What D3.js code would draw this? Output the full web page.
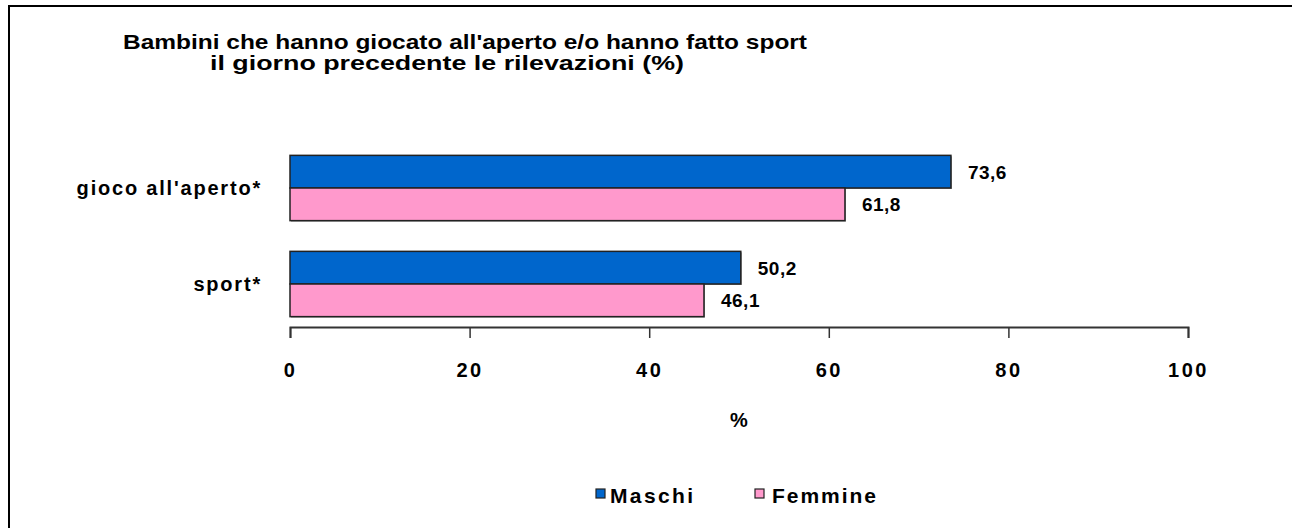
<!DOCTYPE html>
<html>
<head>
<meta charset="utf-8">
<script src="https://cdn.jsdelivr.net/npm/d3@7"></script>
<style>
  body { margin: 0; background: #fff; }
  text { font-family: "Liberation Sans", Arial, sans-serif; font-weight: bold; fill: #000; }
</style>
</head>
<body>
<div id="chart"></div>
<script>
var categories = ["gioco all'aperto*", "sport*"];
var series = ["Maschi", "Femmine"];
var maschi = [73.6, 50.2];
var femmine = [61.8, 46.1];
var xTicks = [0, 20, 40, 60, 80, 100];
var colors = ["#0066cc", "#ff99cc"];
var titleLines = ["Bambini che hanno giocato all'aperto e/o hanno fatto sport", "il giorno precedente le rilevazioni (%)"];

var W = 1292, H = 528;
var fmt = (v) => v.toFixed(1).replace(".", ",");

var svg = d3.select("#chart").append("svg")
    .attr("width", W)
    .attr("height", H);

// outer frame (only left and top visible)
svg.append("path")
    .attr("d", "M9,528 V6 H1292")
    .attr("fill", "none")
    .attr("stroke", "#000")
    .attr("stroke-width", 2);

var x = d3.scaleLinear().domain([0, 100]).range([290, 1188]);
var y = d3.scaleBand().domain(categories).range([140, 332])
    .paddingInner(0.32).paddingOuter(0.16);
var ySub = d3.scaleBand().domain(series).range([0, y.bandwidth()]);

// title
svg.append("g").selectAll("text")
    .data(titleLines)
    .enter().append("text")
    .attr("x", (d, i) => i == 0 ? 465 : 447)
    .attr("y", (d, i) => 49 + i * 21)
    .attr("text-anchor", "middle")
    .attr("font-size", "21px")
    .attr("textLength", (d, i) => i == 0 ? 684 : 474)
    .attr("lengthAdjust", "spacingAndGlyphs")
    .text((d) => d);

var rows = categories.map((c, i) => ({cat: c, vals: [maschi[i], femmine[i]]}));

var grp = svg.selectAll(".grp")
    .data(rows)
    .enter().append("g")
    .attr("class", "grp")
    .attr("transform", (d) => "translate(0," + y(d.cat) + ")");

// shadows
grp.selectAll(".shadow")
    .data((d) => d.vals.map((v, j) => ({v: v, s: series[j], j: j})))
    .enter().append("rect")
    .attr("x", x(0) + 1)
    .attr("y", (d) => ySub(d.s) + 1)
    .attr("width", (d) => x(d.v) - x(0))
    .attr("height", ySub.bandwidth())
    .attr("fill", "#999");

grp.selectAll(".bar")
    .data((d) => d.vals.map((v, j) => ({v: v, s: series[j], j: j})))
    .enter().append("rect")
    .attr("x", x(0))
    .attr("y", (d) => ySub(d.s))
    .attr("width", (d) => x(d.v) - x(0))
    .attr("height", ySub.bandwidth())
    .attr("fill", (d) => colors[d.j])
    .attr("stroke", "#222")
    .attr("stroke-width", 1.5);

grp.selectAll(".val")
    .data((d) => d.vals.map((v, j) => ({v: v, s: series[j], j: j})))
    .enter().append("text")
    .attr("x", (d) => x(d.v) + 17)
    .attr("y", (d) => ySub(d.s) + ySub.bandwidth() / 2 + 7)
    .attr("font-size", "19px")
    .attr("letter-spacing", "0.5px")
    .text((d) => fmt(d.v));

// category labels
svg.append("g").selectAll("text")
    .data(categories)
    .enter().append("text")
    .attr("x", 262)
    .attr("y", (d) => y(d) + y.bandwidth() / 2 + 7)
    .attr("text-anchor", "end")
    .attr("font-size", "20px")
    .attr("letter-spacing", "1.8px")
    .text((d) => d);

// x axis
var axis = svg.append("g")
    .attr("transform", "translate(0,327)")
    .call(d3.axisBottom(x).tickValues(xTicks).tickSize(11).tickSizeOuter(11).tickPadding(25));
axis.select(".domain").attr("stroke", "#333").attr("stroke-width", 2);
axis.selectAll(".tick line").attr("stroke", "#333").attr("stroke-width", 1.5);
axis.selectAll(".tick text")
    .attr("font-size", "20px")
    .attr("letter-spacing", "2.5px")
    .attr("font-family", "Liberation Sans, Arial, sans-serif")
    .attr("font-weight", "bold")
    .attr("fill", "#000");

svg.append("text")
    .attr("x", 739)
    .attr("y", 427)
    .attr("text-anchor", "middle")
    .attr("font-size", "20px")
    .text("%");

// legend
var legX = [596, 755];
var legW = [83, 104];
var leg = svg.append("g").selectAll("g")
    .data(series)
    .enter().append("g")
    .attr("transform", (d, i) => "translate(" + legX[i] + ",489)");
leg.append("rect")
    .attr("width", 9).attr("height", 9)
    .attr("fill", (d, i) => colors[i])
    .attr("stroke", "#222").attr("stroke-width", 1.2);
leg.append("text")
    .attr("x", (d, i) => i == 0 ? 14 : 17)
    .attr("y", 14)
    .attr("font-size", "21px")
    .attr("textLength", (d, i) => legW[i])
    .attr("lengthAdjust", "spacing")
    .text((d) => d);
</script>
</body>
</html>
